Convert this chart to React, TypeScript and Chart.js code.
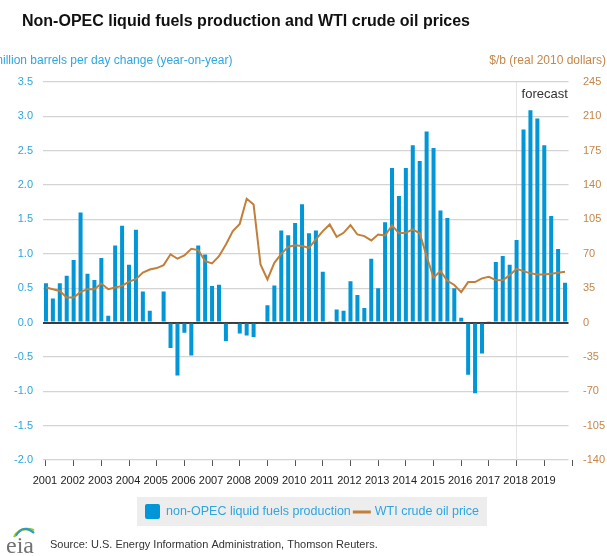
import React, { useEffect, useRef } from "react";
import { Chart, registerables } from "chart.js";

Chart.register(...registerables);

// ---- data ----
const years = [
  "2001", "2002", "2003", "2004", "2005", "2006", "2007", "2008", "2009", "2010",
  "2011", "2012", "2013", "2014", "2015", "2016", "2017", "2018", "2019",
];
const quarterNames = ["Q1", "Q2", "Q3", "Q4"];
const quarterLabels = years.flatMap((y) => quarterNames.map((q) => `${y} ${q}`));

// non-OPEC liquid fuels production, million b/d change (year-on-year), quarterly
const nonOpecChange = [
  0.57, 0.35, 0.57, 0.68, // 2001
  0.91, 1.6, 0.71, 0.62, // 2002
  0.94, 0.1, 1.12, 1.41, // 2003
  0.84, 1.35, 0.45, 0.17, // 2004
  0.0, 0.45, -0.37, -0.77, // 2005
  -0.15, -0.48, 1.12, 0.99, // 2006
  0.53, 0.55, -0.27, -0.01, // 2007
  -0.16, -0.19, -0.21, -0.01, // 2008
  0.25, 0.54, 1.34, 1.27, // 2009
  1.45, 1.72, 1.3, 1.34, // 2010
  0.74, 0.01, 0.19, 0.17, // 2011
  0.6, 0.4, 0.21, 0.93, // 2012
  0.5, 1.46, 2.25, 1.84, // 2013
  2.25, 2.58, 2.35, 2.78, // 2014
  2.54, 1.63, 1.52, 0.5, // 2015
  0.07, -0.76, -1.03, -0.45, // 2016
  0.01, 0.88, 0.97, 0.84, // 2017
  1.2, 2.81, 3.09, 2.97, // 2018
  2.58, 1.55, 1.07, 0.58, // 2019
];

// WTI crude oil price, $/b (real 2010 dollars), quarterly
const wtiPrice = [
  35.6, 34.0, 32.2, 25.4, // 2001
  25.4, 31.2, 34.0, 34.0, // 2002
  39.7, 34.0, 35.6, 37.3, // 2003
  41.7, 44.1, 50.9, 54.0, // 2004
  55.5, 58.5, 69.5, 65.0, // 2005
  68.4, 75.1, 73.8, 62.6, // 2006
  60.2, 67.6, 79.6, 93.1, // 2007
  100.5, 126.0, 120.2, 59.2, // 2008
  43.9, 60.8, 70.0, 77.1, // 2009
  78.8, 78.0, 76.1, 84.6, // 2010
  93.1, 99.9, 87.3, 91.4, // 2011
  99.2, 89.7, 88.0, 83.6, // 2012
  89.7, 88.7, 98.9, 90.9, // 2013
  91.4, 94.8, 90.9, 67.6, // 2014
  45.6, 52.4, 42.5, 38.3, // 2015
  31.0, 41.2, 41.2, 45.0, // 2016
  46.6, 43.2, 43.0, 48.3, // 2017
  54.7, 52.4, 50.1, 49.0, // 2018
  49.0, 49.7, 50.7, 51.7, // 2019
];

const leftTicks = { min: -2.0, max: 3.5, step: 0.5 };
const rightTicks = { min: -140, max: 245, step: 35 };
const forecastStart = "2018 Q1";

const titleText = "Non-OPEC liquid fuels production and WTI crude oil prices";
const leftAxisTitle = "million barrels per day change (year-on-year)";
const rightAxisTitle = "$/b (real 2010 dollars)";
const barLegend = "non-OPEC liquid fuels production";
const lineLegend = "WTI crude oil price";
const sourceText = "Source: U.S. Energy Information Administration, Thomson Reuters.";
const forecastText = "forecast";

// ---- styles ----
const BAR_BLUE = "#0096d7";
const TEXT_BLUE = "#2ea6df";
const LINE_BROWN = "#c27f3a";
const TEXT_BROWN = "#c4864a";
const FONT = '"Liberation Sans", Arial, Helvetica, sans-serif';

const decorPlugin = {
  id: "decor",
  afterDraw(chart: any) {
    const ctx = chart.ctx as CanvasRenderingContext2D;
    const area = chart.chartArea;
    const xs = chart.scales.x;
    ctx.save();

    // closing tick mark at the end of the x axis
    const last = quarterLabels.length - 1;
    const endX = xs.getPixelForValue(last) + (xs.getPixelForValue(last) - xs.getPixelForValue(last - 1));
    ctx.strokeStyle = "#555";
    ctx.lineWidth = 1;
    ctx.beginPath();
    ctx.moveTo(Math.round(endX) + 0.5, area.bottom);
    ctx.lineTo(Math.round(endX) + 0.5, area.bottom + 6);
    ctx.stroke();

    // title
    ctx.textAlign = "left";
    ctx.textBaseline = "alphabetic";
    ctx.fillStyle = "#111";
    ctx.font = `bold 16px ${FONT}`;
    ctx.fillText(titleText, 22, 26);

    // axis titles
    ctx.font = `12px ${FONT}`;
    ctx.fillStyle = TEXT_BLUE;
    ctx.fillText(leftAxisTitle, -7, 64);
    ctx.textAlign = "right";
    ctx.fillStyle = TEXT_BROWN;
    ctx.fillText(rightAxisTitle, 606, 64);

    // forecast label
    const fx = xs.getPixelForValue(quarterLabels.indexOf(forecastStart));
    ctx.textAlign = "left";
    ctx.fillStyle = "#333";
    ctx.font = `13px ${FONT}`;
    ctx.fillText(forecastText, fx + 5, area.top + 16);

    // legend
    ctx.fillStyle = "#ededed";
    ctx.fillRect(137, 497, 350, 29);
    ctx.fillStyle = BAR_BLUE;
    ctx.beginPath();
    (ctx as any).roundRect(145, 504, 15, 15, 2);
    ctx.fill();
    ctx.font = `12.5px ${FONT}`;
    ctx.textBaseline = "middle";
    ctx.fillStyle = TEXT_BLUE;
    ctx.fillText(barLegend, 166, 512);
    const w1 = ctx.measureText(barLegend).width;
    const lx = 166 + w1 + 2;
    ctx.strokeStyle = LINE_BROWN;
    ctx.lineWidth = 3;
    ctx.beginPath();
    ctx.moveTo(lx, 512);
    ctx.lineTo(lx + 18, 512);
    ctx.stroke();
    ctx.fillStyle = TEXT_BLUE;
    ctx.fillText(lineLegend, lx + 22, 512);

    // source
    ctx.textBaseline = "alphabetic";
    ctx.fillStyle = "#333";
    ctx.font = `11px ${FONT}`;
    ctx.fillText(sourceText, 50, 548);

    // eia logo
    ctx.fillStyle = "#6f7173";
    ctx.font = `24px "Liberation Serif", "DejaVu Serif", serif`;
    ctx.fillText("eia", 6, 553);
    const arcs: [string, number][] = [
      ["#8dc63f", 0],
      ["#f4c400", 3],
      ["#1aa0dc", 6],
    ];
    ctx.lineWidth = 2.2;
    for (const [c, o] of arcs) {
      ctx.strokeStyle = c;
      ctx.beginPath();
      ctx.moveTo(14 + o * 0.3, 537 - o * 0.2);
      ctx.quadraticCurveTo(20 + o * 0.5, 526 - o * 0.4, 34, 530 + o * 0.5);
      ctx.stroke();
    }

    ctx.restore();
  },
};

export default function App() {
  const canvasRef = useRef<HTMLCanvasElement | null>(null);

  useEffect(() => {
    if (!canvasRef.current) return;
    const forecastIndex = quarterLabels.indexOf(forecastStart);
    const chart = new Chart(canvasRef.current, {
      type: "bar",
      data: {
        labels: quarterLabels,
        datasets: [
          {
            type: "line",
            label: lineLegend,
            data: wtiPrice,
            yAxisID: "y1",
            borderColor: LINE_BROWN,
            backgroundColor: LINE_BROWN,
            borderWidth: 2,
            pointRadius: 0,
            tension: 0,
            order: 0,
          } as any,
          {
            type: "bar",
            label: barLegend,
            data: nonOpecChange,
            yAxisID: "y",
            backgroundColor: BAR_BLUE,
            borderWidth: 0,
            barPercentage: 0.58,
            categoryPercentage: 1,
            order: 1,
          },
        ],
      },
      options: {
        responsive: false,
        animation: false,
        layout: { padding: { top: 82, bottom: 66, left: 0, right: 0 } },
        plugins: {
          legend: { display: false },
          title: { display: false },
          tooltip: { enabled: false },
        },
        scales: {
          x: {
            type: "category",
            offset: true,
            border: { display: false },
            grid: {
              offset: false,
              drawOnChartArea: true,
              drawTicks: true,
              tickLength: 6,
              lineWidth: 1,
              color: (c: any) => (c.index === forecastIndex ? "#e4e4e4" : "rgba(0,0,0,0)"),
              tickColor: (c: any) => (c.index % 4 === 0 ? "#555" : "rgba(0,0,0,0)"),
            },
            ticks: {
              autoSkip: false,
              maxRotation: 0,
              minRotation: 0,
              padding: 8,
              labelOffset: -1,
              color: "#222",
              font: { family: FONT, size: 11 },
              callback: (_v: any, i: number) => (i % 4 === 0 ? years[i / 4] : ""),
            },
            afterFit: (s: any) => {
              s.height = 30;
            },
          },
          y: {
            position: "left",
            min: leftTicks.min,
            max: leftTicks.max,
            border: { display: false },
            grid: {
              drawTicks: false,
              color: (c: any) => (c.tick && c.tick.value === 0 ? "#3c3c3c" : "#d4d4d4"),
              lineWidth: (c: any) => (c.tick && c.tick.value === 0 ? 2 : 1.3),
            },
            ticks: {
              stepSize: leftTicks.step,
              padding: 9.5,
              color: TEXT_BLUE,
              font: { family: FONT, size: 11 },
              callback: (v: any) => Number(v).toFixed(1),
            },
            afterFit: (s: any) => {
              s.width = 42.5;
            },
          },
          y1: {
            position: "right",
            min: rightTicks.min,
            max: rightTicks.max,
            border: { display: false },
            grid: { drawOnChartArea: false, drawTicks: false },
            ticks: {
              stepSize: rightTicks.step,
              padding: 14.5,
              color: TEXT_BROWN,
              font: { family: FONT, size: 11 },
              callback: (v: any) => String(Math.round(Number(v))),
            },
            afterFit: (s: any) => {
              s.width = 38.5;
            },
          },
        },
      },
      plugins: [decorPlugin],
    });
    return () => chart.destroy();
  }, []);

  return (
    <div style={{ position: "absolute", left: 0, top: 0, width: 607, height: 556, background: "#fff" }}>
      <canvas ref={canvasRef} width={607} height={556} style={{ display: "block" }} />
    </div>
  );
}
